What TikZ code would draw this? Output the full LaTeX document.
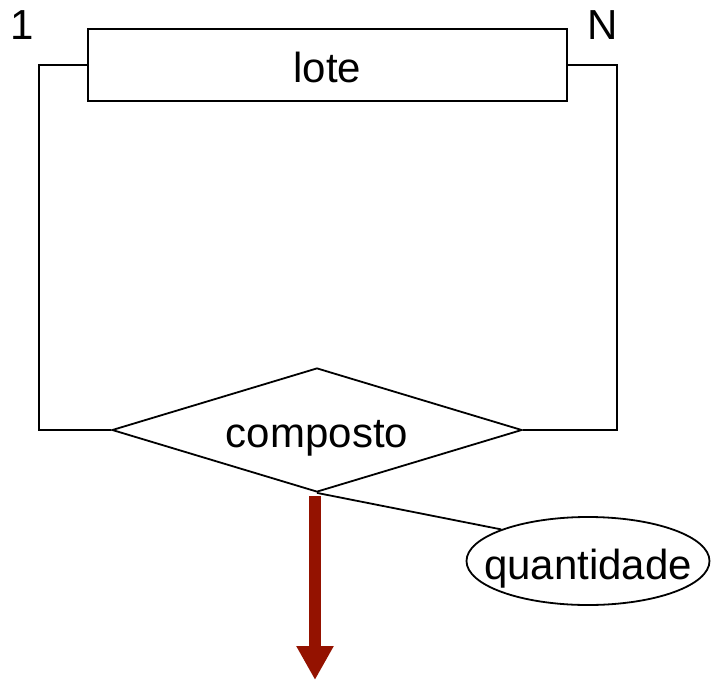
\documentclass[tikz,border=0pt]{standalone}
\usepackage{fontspec}
\setmainfont{Liberation Sans}
\usepackage{xcolor}
\definecolor{ArrowRed}{HTML}{941200}
\usepackage{tikz}
\usetikzlibrary{shapes.geometric, arrows.meta, positioning}
\tikzset{
  entitybox/.style={rectangle, draw=black, line width=1.8pt, minimum width=479pt, minimum height=72pt, inner sep=0pt, text height=35pt, text depth=0pt},
  relbox/.style={diamond, draw=black, line width=1.8pt, aspect=3.3, minimum width=410pt, minimum height=124pt, inner sep=0pt, text height=35pt, text depth=0pt},
  attrbox/.style={ellipse, draw=black, line width=1.8pt, minimum width=243pt, minimum height=88pt, inner xsep=-30pt, inner ysep=0pt, text height=37pt, text depth=0pt},
  cardlabel/.style={inner sep=0pt},
  line/.style={draw=black, line width=1.8pt},
  bigarrow/.style={-{Triangle[width=35pt, length=34pt]}, line width=12.5pt, ArrowRed}
}

\begin{document}
\begin{tikzpicture}[x=1pt, y=-1pt, font=\fontsize{42}{50}\selectfont]
  \useasboundingbox (0,0) rectangle (712,680);

  \node[entitybox] (lote) at (327.5,65) {lote};
  \node[relbox] (comp) at (317,430) {composto};
  \node[attrbox] (qtd) at (588,561) {quantidade};

  \node[cardlabel] (one) at (22,25) {1};
  \node[cardlabel] (many) at (603,25) {N};

  \draw[line] (lote.west) -- ++(-48,0) |- (comp.west);
  \draw[line] (lote.east) -- ++(49,0) |- (comp.east);
  \draw[line] (comp.south) -- (qtd.160);

  \coordinate (tip) at (315,680);
  \draw[bigarrow, shorten <=3pt] (comp.south -| tip) -- (tip);
\end{tikzpicture}
\end{document}
